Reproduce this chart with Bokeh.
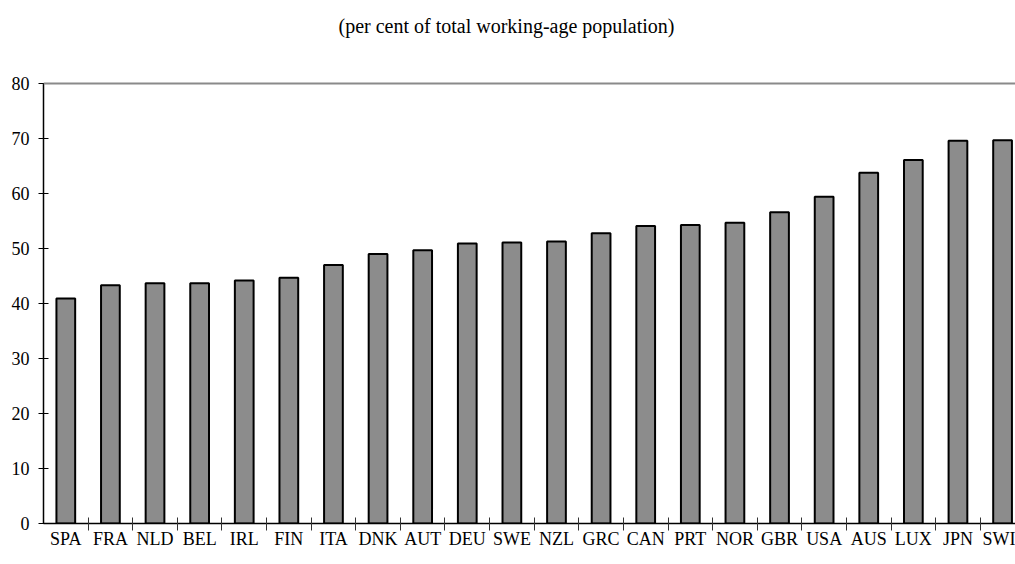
from bokeh.plotting import figure
from bokeh.models import Range1d, FixedTicker, Span, Label, ColumnDataSource
from bokeh.embed import file_html
from bokeh.resources import INLINE

countries = ["SPA", "FRA", "NLD", "BEL", "IRL", "FIN", "ITA", "DNK", "AUT", "DEU", "SWE",
             "NZL", "GRC", "CAN", "PRT", "NOR", "GBR", "USA", "AUS", "LUX", "JPN", "SWI"]
values = [40.9, 43.3, 43.7, 43.7, 44.2, 44.7, 47.0, 49.0, 49.7, 50.9, 51.1,
          51.3, 52.8, 54.1, 54.3, 54.7, 56.6, 59.4, 63.8, 66.1, 69.6, 69.7]
y_ticks = [0, 10, 20, 30, 40, 50, 60, 70, 80]
title_text = "(per cent of total working-age population)"

FONT = "Liberation Serif"

centers = [i + 0.5 for i in range(len(countries))]
bounds = [i for i in range(1, len(countries))]

src = ColumnDataSource(dict(x=centers, top=values, name=countries))

# frame reaches the top of the canvas; the axis line is bounded to 0..80
p = figure(width=1015, height=564, output_backend="svg", toolbar_location=None,
           x_range=Range1d(0, 21.79), y_range=Range1d(0, 95.1),
           min_border_left=43, min_border_right=0, min_border_top=0, min_border_bottom=41)
p.outline_line_color = None
p.background_fill_color = "white"
p.border_fill_color = "white"
p.xgrid.visible = False
p.ygrid.visible = False

p.vbar(x="x", top="top", width=0.42, bottom=0, source=src,
       fill_color="#8c8c8c", line_color="black", line_width=2)

p.add_layout(Span(location=80, dimension="width", line_color="#8a8a8a", line_width=2))

lbl = Label(x=10.38, y=90.4, text=title_text, text_align="center",
            text_baseline="alphabetic", text_font=FONT, text_font_size="20px", text_color="black")
p.add_layout(lbl)

# x axis
xa = p.xaxis[0]
xa.ticker = FixedTicker(ticks=centers, minor_ticks=bounds)
xa.major_label_overrides = {c: n for c, n in zip(centers, countries)}
xa.major_tick_in = 0
xa.major_tick_out = 0
xa.minor_tick_in = 6
xa.minor_tick_out = 7
xa.minor_tick_line_color = "#333333"
xa.axis_line_color = "black"
xa.axis_line_width = 1.5
xa.major_label_text_font = FONT
xa.major_label_text_font_size = "18px"
xa.major_label_text_color = "black"
xa.major_label_standoff = -2

# y axis
ya = p.yaxis[0]
ya.ticker = FixedTicker(ticks=y_ticks)
ya.bounds = (0, 80)
ya.major_tick_in = 5
ya.major_tick_out = 5
ya.minor_tick_line_color = None
ya.axis_line_color = "black"
ya.axis_line_width = 1.5
ya.major_tick_line_color = "black"
ya.major_label_text_font = FONT
ya.major_label_text_font_size = "18px"
ya.major_label_text_color = "black"
ya.major_label_standoff = 9

open("out.html", "w").write(file_html(p, INLINE))
